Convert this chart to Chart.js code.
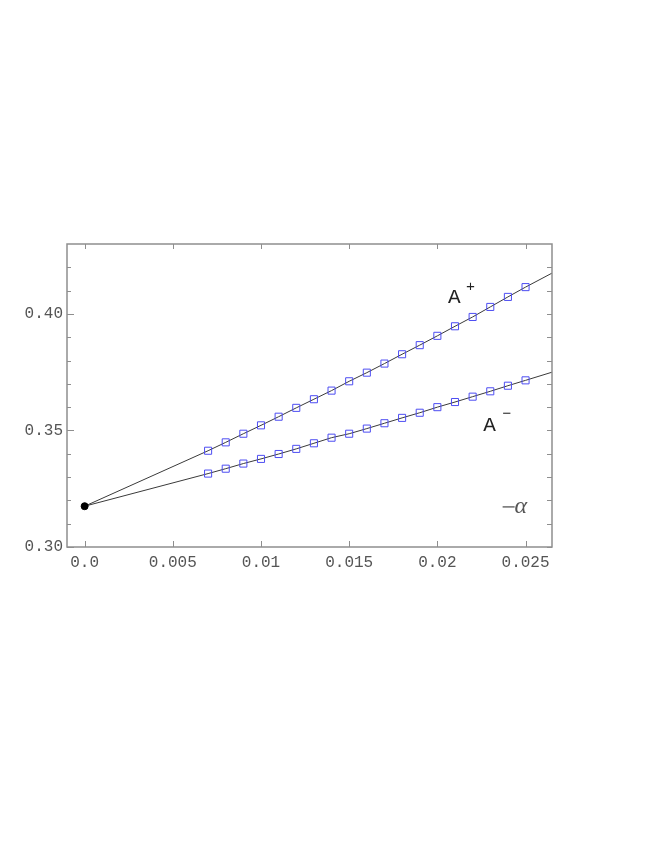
<!DOCTYPE html>
<html>
<head>
<meta charset="utf-8">
<script src="https://cdn.jsdelivr.net/npm/chart.js@4.4.0/dist/chart.umd.min.js"></script>
<style>
    html, body { margin: 0; padding: 0; background: #fff; }
    #wrap { position: relative; width: 654px; height: 846px; }
</style>
</head>
<body>
<div id="wrap"><canvas id="chart"></canvas></div>
<script>
// measured points (x = -alpha)
var xValues = [0.007, 0.008, 0.009, 0.010, 0.011, 0.012, 0.013, 0.014, 0.015, 0.016,
    0.017, 0.018, 0.019, 0.020, 0.021, 0.022, 0.023, 0.024, 0.025];
var aPlus = [0.3413, 0.3449, 0.3486, 0.3522, 0.3559, 0.3597, 0.3634, 0.3671, 0.3711, 0.3748,
    0.3787, 0.3827, 0.3866, 0.3906, 0.3947, 0.3987, 0.4030, 0.4073, 0.4115];
var aMinus = [0.3315, 0.3336, 0.3358, 0.3378, 0.3399, 0.3421, 0.3445, 0.3469, 0.3486, 0.3508,
    0.3531, 0.3554, 0.3576, 0.3600, 0.3622, 0.3645, 0.3668, 0.3692, 0.3715];

// common limit point at alpha = 0
var originX = 0.0;
var originY = 0.3175;

// end of the fitted curves at the right edge
var endX = 0.0265;
var endPlus = 0.4175;
var endMinus = 0.3750;

// axes
var xTicks = [0.0, 0.005, 0.01, 0.015, 0.02, 0.025];
var xTickLabels = ['0.0', '0.005', '0.01', '0.015', '0.02', '0.025'];
var yTicks = [0.30, 0.35, 0.40];
var yTickLabels = ['0.30', '0.35', '0.40'];
var yMinorTicks = [0.31, 0.32, 0.33, 0.34, 0.36, 0.37, 0.38, 0.39, 0.41, 0.42];

var markerColor = '#4d4df2';
var lineColor = '#3a3a3a';
var frameColor = '#8e8e8e';
var tickFont = '"Liberation Mono", "DejaVu Sans Mono", monospace';

function points(xs, ys) {
    return xs.map(function (x, i) { return {x: x, y: ys[i]}; });
}

function fitLine(ys, endY) {
    return [{x: originX, y: originY}].concat(points(xValues, ys), [{x: endX, y: endY}]);
}

// frame, inward ticks and the curve labels
var framePlugin = {
    id: 'frame',
    afterDatasetsDraw: function (chart) {
        var ctx = chart.ctx, a = chart.chartArea;
        var xs = chart.scales.x, ys = chart.scales.y;
        ctx.save();
        ctx.strokeStyle = frameColor;
        ctx.lineWidth = 1.5;
        ctx.strokeRect(a.left, a.top, a.right - a.left, a.bottom - a.top);

        ctx.lineWidth = 1;
        ctx.beginPath();
        xTicks.forEach(function (v) {
            var px = Math.round(xs.getPixelForValue(v)) + 0.5;
            ctx.moveTo(px, a.bottom); ctx.lineTo(px, a.bottom - 6);
            ctx.moveTo(px, a.top); ctx.lineTo(px, a.top + 5);
        });
        yTicks.forEach(function (v) {
            var py = Math.round(ys.getPixelForValue(v)) + 0.5;
            ctx.moveTo(a.left, py); ctx.lineTo(a.left + 7, py);
            ctx.moveTo(a.right, py); ctx.lineTo(a.right - 5, py);
        });
        yMinorTicks.forEach(function (v) {
            var py = Math.round(ys.getPixelForValue(v)) + 0.5;
            ctx.moveTo(a.left, py); ctx.lineTo(a.left + 4, py);
            ctx.moveTo(a.right, py); ctx.lineTo(a.right - 5, py);
        });
        ctx.stroke();

        // curve labels
        ctx.fillStyle = '#222';
        ctx.textBaseline = 'alphabetic';
        ctx.font = '21px "Liberation Mono", monospace';
        var px = xs.getPixelForValue(0.0206), py = ys.getPixelForValue(0.4047);
        ctx.fillText('A', px, py);
        ctx.font = '15px "Liberation Mono", monospace';
        ctx.fillText('+', px + 18, py - 12);

        ctx.font = '21px "Liberation Mono", monospace';
        px = xs.getPixelForValue(0.0226); py = ys.getPixelForValue(0.3497);
        ctx.fillText('A', px, py);
        ctx.font = '15px "Liberation Mono", monospace';
        ctx.fillText('\u2212', px + 19, py - 13);

        // -alpha
        ctx.fillStyle = '#555';
        ctx.strokeStyle = '#555';
        ctx.lineWidth = 1.3;
        px = xs.getPixelForValue(0.0237); py = ys.getPixelForValue(0.3172);
        ctx.beginPath();
        ctx.moveTo(px, py); ctx.lineTo(px + 12, py);
        ctx.stroke();
        ctx.font = 'italic 24px "Liberation Serif", serif';
        ctx.textBaseline = 'middle';
        ctx.fillText('\u03b1', px + 12, py);
        ctx.restore();
    }
};

var ctx = document.getElementById('chart').getContext('2d');
var chart = new Chart(ctx, {
    type: 'scatter',
    data: {
        datasets: [{
            label: 'A+ fit',
            data: fitLine(aPlus, endPlus),
            showLine: true,
            borderColor: lineColor,
            borderWidth: 1,
            pointRadius: 0,
            fill: false,
            order: 2
        }, {
            label: 'A- fit',
            data: fitLine(aMinus, endMinus),
            showLine: true,
            borderColor: lineColor,
            borderWidth: 1,
            pointRadius: 0,
            fill: false,
            order: 2
        }, {
            label: 'A+',
            data: points(xValues, aPlus),
            pointStyle: 'rect',
            pointRadius: 5,
            borderColor: markerColor,
            backgroundColor: 'rgba(0,0,0,0)',
            borderWidth: 1,
            order: 1
        }, {
            label: 'A-',
            data: points(xValues, aMinus),
            pointStyle: 'rect',
            pointRadius: 5,
            borderColor: markerColor,
            backgroundColor: 'rgba(0,0,0,0)',
            borderWidth: 1,
            order: 1
        }, {
            label: 'alpha = 0',
            data: [{x: originX, y: originY}],
            pointStyle: 'circle',
            pointRadius: 3.5,
            borderColor: '#000',
            backgroundColor: '#000',
            order: 0
        }]
    },
    options: {
        responsive: true, maintainAspectRatio: false, animation: false,
        layout: {
            padding: {left: 0, right: 102, top: 244, bottom: 269}
        },
        plugins: {
            legend: {display: false},
            tooltip: {enabled: false}
        },
        scales: {
            x: {
                type: 'linear', min: -0.001, max: 0.0265,
                grid: {display: false, drawTicks: false},
                border: {display: false},
                afterBuildTicks: function (scale) {
                    scale.ticks = xTicks.map(function (v) { return {value: v}; });
                },
                afterFit: function (scale) { scale.height = 30; },
                ticks: {
                    autoSkip: false, maxRotation: 0, padding: 6,
                    color: '#555', font: {family: tickFont, size: 16},
                    callback: function (v, i) { return xTickLabels[i]; }
                }
            },
            y: {
                type: 'linear', min: 0.30, max: 0.43,
                grid: {display: false, drawTicks: false},
                border: {display: false},
                afterBuildTicks: function (scale) {
                    scale.ticks = yTicks.map(function (v) { return {value: v}; });
                },
                afterFit: function (scale) { scale.width = 67; },
                ticks: {
                    autoSkip: false, padding: 4,
                    color: '#555', font: {family: tickFont, size: 16},
                    callback: function (v, i) { return yTickLabels[i]; }
                }
            }
        }
    },
    plugins: [framePlugin]
});
</script>
</body>
</html>
